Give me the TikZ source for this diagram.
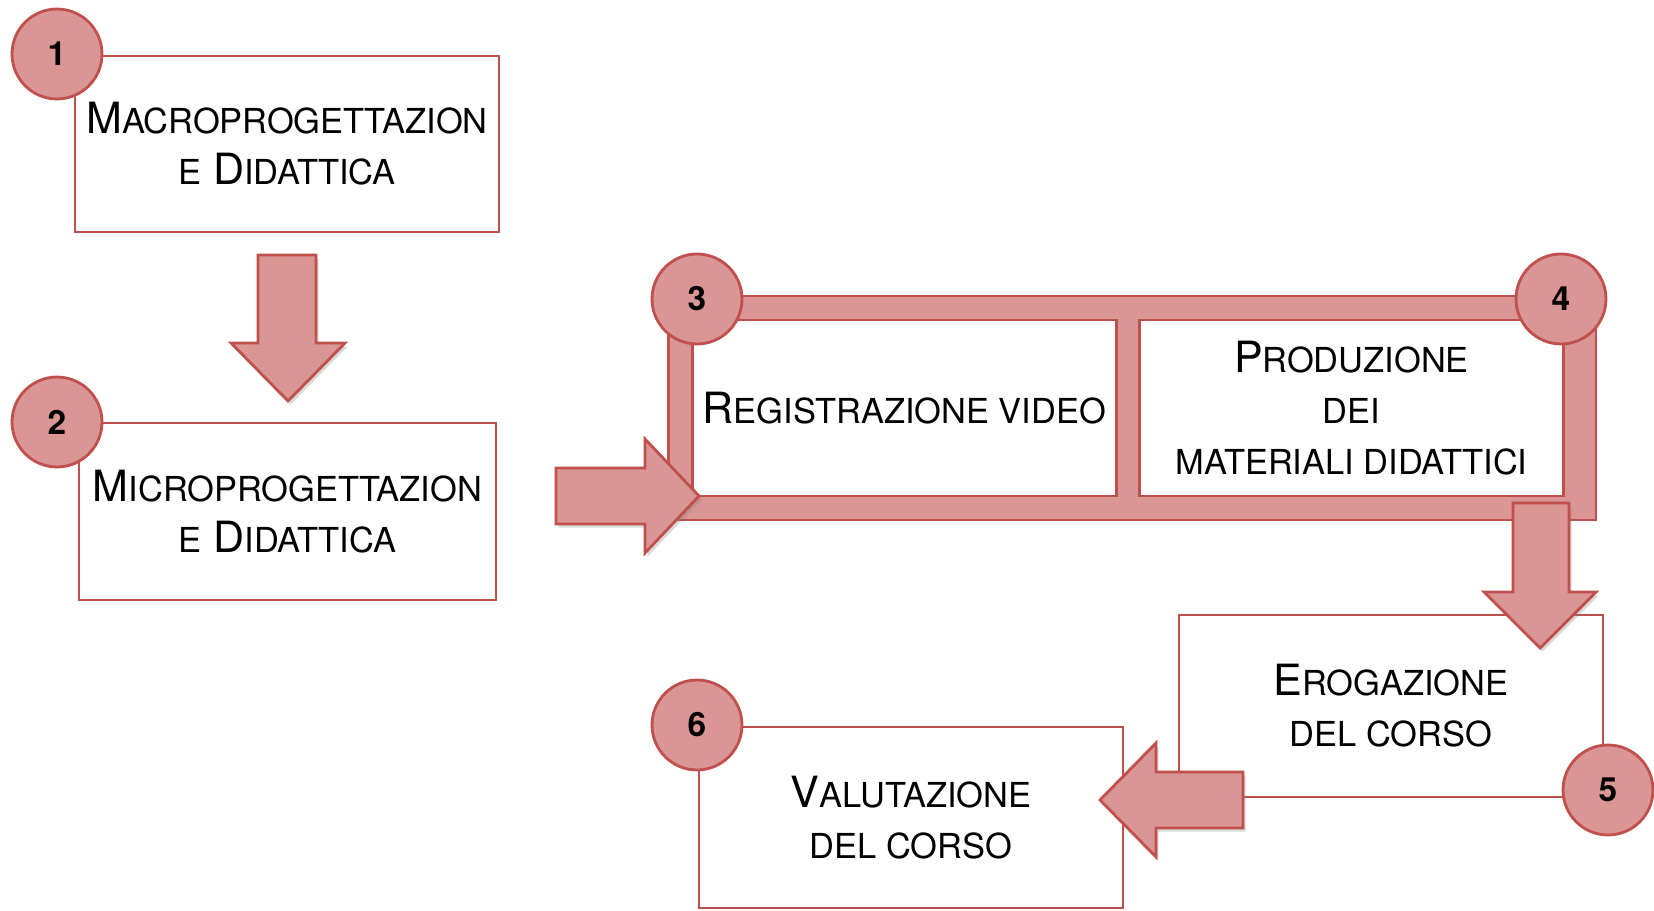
\documentclass[tikz,border=0pt]{standalone}
\usepackage{fontspec}
\setmainfont{TeX Gyre Heros}
\usetikzlibrary{shadows}
\definecolor{rosso}{RGB}{192,80,77}
\definecolor{rosa}{RGB}{217,150,148}
\newcommand{\pc}[1]{{\fontsize{19.6}{29}\selectfont #1}}

\begin{document}
\begin{tikzpicture}[x=0.02cm,y=-0.02cm,
  fase/.style={draw=rosso, line width=1.6pt, fill=white, align=center, inner sep=0pt, minimum width=8.48cm, minimum height=3.54cm, font=\fontsize{24.5}{29}\selectfont},
  numero/.style={circle, draw=rosso, line width=1.6pt, fill=rosa, minimum size=1.8cm, inner sep=0pt, font=\fontsize{19}{19}\selectfont\bfseries},
  freccia/.style={draw=rosso, line width=1.6pt, fill=rosa, line join=miter, drop shadow={shadow xshift=1.5pt, shadow yshift=-2pt, opacity=0.3}}]
\useasboundingbox (0,0) rectangle (1654,911);
% cornice delle fasi 3 e 4
\node[draw=rosso, line width=1.6pt, fill=rosa, minimum width=18.56cm, minimum height=4.48cm] (cornice) at (1132,408) {};
\node[fase, minimum height=3.52cm] (registrazione) at (904.5,408) {R\pc{EGISTRAZIONE VIDEO}};
\node[fase, minimum height=3.52cm] (produzione) at (1351.5,408) {P\pc{RODUZIONE}\\\pc{DEI}\\\pc{MATERIALI DIDATTICI}};
% altre fasi
\node[fase, minimum height=3.52cm] (macro) at (287,144) {M\pc{ACROPROGETTAZION}\\\pc{E} D\pc{IDATTICA}};
\node[fase, minimum width=8.34cm] (micro) at (287.5,511.5) {M\pc{ICROPROGETTAZION}\\\pc{E} D\pc{IDATTICA}};
\node[fase, minimum height=3.64cm] (erogazione) at (1391,706) {E\pc{ROGAZIONE}\\\pc{DEL CORSO}};
\node[fase, minimum height=3.62cm] (valutazione) at (911,817.5) {V\pc{ALUTAZIONE}\\\pc{DEL CORSO}};
% frecce
\draw[freccia] (258,255) -- (316,255) -- (316,343) -- (345,343) -- (288,401) -- (231,343) -- (258,343) -- cycle;
\draw[freccia] (556,468) -- (645,468) -- (645,439) -- (699,496) -- (645,553) -- (645,524) -- (556,524) -- cycle;
\draw[freccia] (1513,503) -- (1569,503) -- (1569,592) -- (1596,592) -- (1540,648) -- (1484,592) -- (1513,592) -- cycle;
\draw[freccia] (1243,772) -- (1156,772) -- (1156,743) -- (1100,800) -- (1156,857) -- (1156,828) -- (1243,828) -- cycle;
% numeri
\node[numero] (n1) at (57,54) {1};
\node[numero] (n2) at (57,422) {2};
\node[numero] (n3) at (697,299) {3};
\node[numero] (n4) at (1561,299) {4};
\node[numero] (n5) at (1608,790) {5};
\node[numero] (n6) at (697,725) {6};
\end{tikzpicture}
\end{document}
